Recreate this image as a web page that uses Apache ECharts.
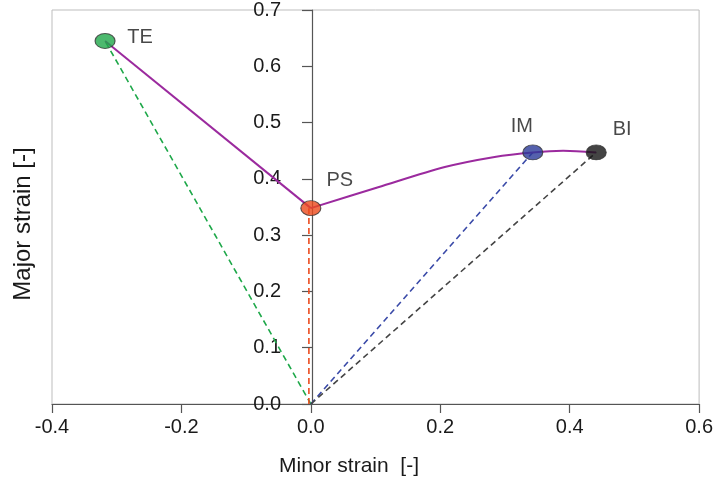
<!DOCTYPE html>
<html>
<head>
<meta charset="utf-8">
<script src="https://cdn.jsdelivr.net/npm/echarts@6/dist/echarts.min.js"></script>
<style>
html,body{margin:0;padding:0;background:#fff;}
#chart{width:716px;height:483px;}
</style>
</head>
<body>
<div id="chart"></div>
<script>
// Named data arrays
const pointNames = ['TE', 'PS', 'IM', 'BI'];
const minorStrain = [-0.318, 0.0, 0.343, 0.441];
const majorStrain = [0.645, 0.348, 0.447, 0.447];
// path TE -> PS (straight)
const pathTEPS_x = [-0.318, 0.0];
const pathTEPS_y = [0.645, 0.348];
// path PS -> IM -> BI (smooth curve)
const pathCurve_x = [0.0, 0.104, 0.207, 0.284, 0.343, 0.39, 0.441];
const pathCurve_y = [0.348, 0.385, 0.421, 0.439, 0.447, 0.450, 0.447];
// dashed strain paths from origin
const originX = 0.0, originY = 0.0;
const psDashX = -0.003;
const xTicks = [-0.4, -0.2, 0.0, 0.2, 0.4, 0.6];
const yTicks = [0, 0.1, 0.2, 0.3, 0.4, 0.5, 0.6, 0.7];

const pointColors = ['#1fa84a', '#ec4a1c', '#2b3a98', '#151515'];
const dashColors = ['#1fa84a', '#ec4a1c', '#3a4aa8', '#444444'];
const labelOffsets = [[35, -3], [29, -28], [-11, -26], [26, -23]];

const FONT = '"Liberation Sans", Arial, sans-serif';
const TXT = '#1a1a1a';

const zip = (a, b) => a.map((v, i) => [v, b[i]]);

const series = [];
// dashed lines from origin
pointNames.forEach((n, i) => {
  const px = n === 'PS' ? psDashX : minorStrain[i];
  series.push({
    type: 'line',
    data: [[n === 'PS' ? psDashX : originX, originY], [px, majorStrain[i]]],
    symbol: 'none',
    silent: true,
    lineStyle: { color: dashColors[i], width: 1.6, type: [6, 4] },
    z: 2
  });
});
series.push({
  type: 'line',
  data: zip(pathTEPS_x, pathTEPS_y),
  symbol: 'none',
  lineStyle: { color: '#9b2a9e', width: 2 },
  z: 3
});
series.push({
  type: 'line',
  data: zip(pathCurve_x, pathCurve_y),
  symbol: 'none',
  smooth: 0.3,
  lineStyle: { color: '#9b2a9e', width: 2 },
  z: 3
});
series.push({
  type: 'scatter',
  symbol: 'circle',
  symbolSize: [20, 15],
  z: 5,
  data: pointNames.map((n, i) => ({
    name: n,
    value: [minorStrain[i], majorStrain[i]],
    itemStyle: { color: pointColors[i], borderColor: '#333', borderWidth: 1 },
    label: {
      show: true,
      formatter: n,
      position: 'inside',
      offset: labelOffsets[i],
      color: TXT,
      fontSize: 20,
      fontFamily: FONT
    }
  }))
});

const chart = echarts.init(document.getElementById('chart'), null, { renderer: 'canvas' });
chart.setOption({
  animation: false,
  backgroundColor: '#fff',
  grid: {
    left: 52, right: 13, top: 10, bottom: 79,
    show: true, borderColor: '#bdbdbd', borderWidth: 1, backgroundColor: 'transparent'
  },
  xAxis: {
    type: 'value',
    min: xTicks[0], max: xTicks[xTicks.length - 1], interval: 0.2,
    axisLine: { show: true, onZero: false, lineStyle: { color: '#555', width: 1.2 } },
    axisTick: { show: true, inside: false, length: 9, lineStyle: { color: '#555', width: 1.2 } },
    axisLabel: { fontSize: 20, color: TXT, fontFamily: FONT, margin: 13,
      formatter: v => v.toFixed(1) },
    splitLine: { show: false }
  },
  yAxis: {
    type: 'value',
    min: yTicks[0], max: yTicks[yTicks.length - 1], interval: 0.1,
    offset: -260,
    axisLine: { show: true, onZero: false, lineStyle: { color: '#555', width: 1.2 } },
    axisTick: { show: true, inside: false, length: 10, lineStyle: { color: '#555', width: 1.2 } },
    axisLabel: { fontSize: 20, color: TXT, fontFamily: FONT, margin: 18,
      padding: [0, 13, 0, 0], align: 'right',
      formatter: v => v.toFixed(1) },
    splitLine: { show: false }
  },
  graphic: [{
    type: 'text',
    x: 23, y: 224,
    rotation: Math.PI / 2,
    style: { text: 'Major strain [-]', font: '24px ' + FONT, fill: TXT,
      textAlign: 'center', textVerticalAlign: 'middle' }
  }, {
    type: 'text',
    x: 349, y: 466,
    style: { text: 'Minor strain  [-]', font: '21px ' + FONT, fill: TXT,
      textAlign: 'center', textVerticalAlign: 'middle' }
  }],
  series: series
});
</script>
</body>
</html>
